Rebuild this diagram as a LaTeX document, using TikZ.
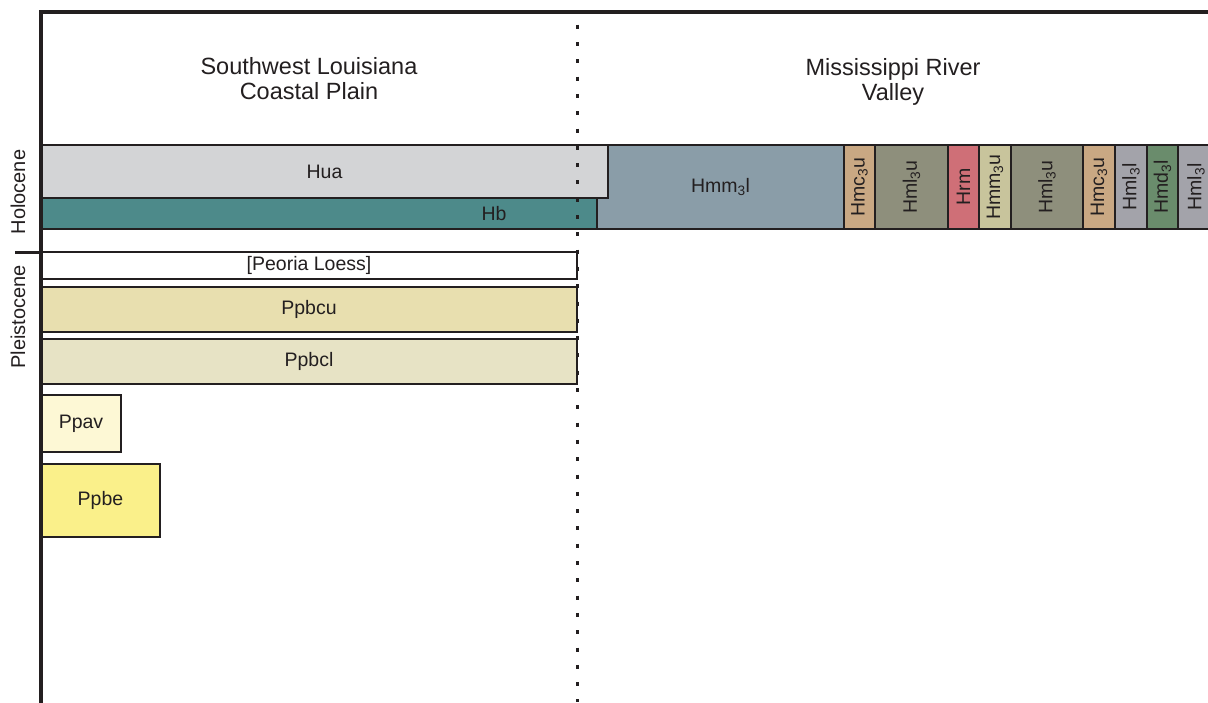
\documentclass[tikz,border=0pt]{standalone}
\usepackage{fontspec}
\setmainfont{Liberation Sans}
\definecolor{linec}{HTML}{231F20}
\definecolor{textc}{HTML}{231F20}
\definecolor{huac}{HTML}{D3D4D6}
\definecolor{hbc}{HTML}{4D8A8A}
\definecolor{hmmlc}{HTML}{8A9DA8}
\definecolor{hmcc}{HTML}{C9A883}
\definecolor{hmluc}{HTML}{8E8F7C}
\definecolor{hrmc}{HTML}{CF6F77}
\definecolor{hmmuc}{HTML}{C8C49C}
\definecolor{hmllc}{HTML}{A3A3AA}
\definecolor{hmdc}{HTML}{6A8C6C}
\definecolor{ppbcuc}{HTML}{E8DFAF}
\definecolor{ppbclc}{HTML}{E7E3C5}
\definecolor{ppavc}{HTML}{FDF8D5}
\definecolor{ppbec}{HTML}{FAF08A}
\begin{document}
\begin{tikzpicture}[x=1pt,y=-1pt,
  box/.style={rectangle, draw=linec, line width=2.6pt, inner sep=0pt, text=textc,
    font=\fontsize{19.5}{21}\selectfont},
  vbox/.style={box, minimum height=84pt},
  header/.style={text=textc, align=center, font=\fontsize{23.5}{25}\selectfont, inner sep=0pt},
  era/.style={text=textc, rotate=90, font=\fontsize{20}{22}\selectfont, inner sep=0pt},
  plain/.style={text=textc, font=\fontsize{19.5}{21}\selectfont, inner sep=0pt},
  frame/.style={line width=4.8pt, draw=linec, line join=miter},
  divider/.style={line width=3pt, draw=linec, dash pattern=on 4pt off 13.3pt, dash phase=6.6pt}
]
\useasboundingbox[fill=white] (0,0) rectangle (1208,702);

% headers
\node[header] (sw) at (309,79) {Southwest Louisiana\\Coastal Plain};
\node[header] (mrv) at (893,81.5) {Mississippi River\\Valley};

% Holocene boxes
\node[box, fill=hmmlc, minimum width=247pt, minimum height=84pt] (hmml) at (720.5,187) {Hmm\textsubscript{3}l};
\node[box, fill=hbc, minimum width=556pt, minimum height=31pt] (hb) at (319,213.5) {};
\node[plain] (hbt) at (494,214) {Hb};
\node[box, fill=huac, minimum width=567pt, minimum height=53pt] (hua) at (324.5,171.5) {Hua};

\node[vbox, fill=hmcc,  minimum width=31pt] (v1) at (859.5,187) {\rotatebox{90}{Hmc\textsubscript{3}u}};
\node[vbox, fill=hmluc, minimum width=73pt] (v2) at (911.5,187) {\rotatebox{90}{Hml\textsubscript{3}u}};
\node[vbox, fill=hrmc,  minimum width=31pt] (v3) at (963.5,187) {\rotatebox{90}{Hrm}};
\node[vbox, fill=hmmuc, minimum width=32pt] (v4) at (995,187) {\rotatebox{90}{Hmm\textsubscript{3}u}};
\node[vbox, fill=hmluc, minimum width=72pt] (v5) at (1047,187) {\rotatebox{90}{Hml\textsubscript{3}u}};
\node[vbox, fill=hmcc,  minimum width=32pt] (v6) at (1099,187) {\rotatebox{90}{Hmc\textsubscript{3}u}};
\node[vbox, fill=hmllc, minimum width=32pt] (v7) at (1131,187) {\rotatebox{90}{Hml\textsubscript{3}l}};
\node[vbox, fill=hmdc,  minimum width=31pt] (v8) at (1162.5,187) {\rotatebox{90}{Hmd\textsubscript{3}l}};
\node[vbox, fill=hmllc, minimum width=36pt] (v9) at (1196,187) {\rotatebox{90}{Hml\textsubscript{3}l}};

% Pleistocene boxes
\node[box, fill=white,  minimum width=536pt, minimum height=27pt] (peoria) at (309,265.5) {[Peoria Loess]};
\node[box, fill=ppbcuc, minimum width=536pt, minimum height=45pt] (ppbcu) at (309,309.5) {Ppbcu};
\node[box, fill=ppbclc, minimum width=536pt, minimum height=45pt] (ppbcl) at (309,361.5) {Ppbcl};
\node[box, fill=ppavc,  minimum width=80pt,  minimum height=57pt] (ppav) at (81,423.5) {Ppav};
\node[box, fill=ppbec,  minimum width=119pt, minimum height=73pt] (ppbe) at (100.5,500.5) {Ppbe};

% era labels
\node[era] (holo) at (18,192) {Holocene};
\node[era] (pleis) at (18,317) {Pleistocene};

% divider
\coordinate (dtop) at (577,14);
\coordinate (dbot) at (577,702);
\draw[divider] (dtop) -- (dbot);

% frame
\coordinate (ftr) at (1212,12);
\coordinate (ftl) at (41,12);
\coordinate (fbl) at (41,706);
\draw[frame] (ftr) -- (ftl) -- (fbl);
\coordinate (tickl) at (15,252);
\coordinate (tickr) at (41,252);
\draw[line width=3pt, draw=linec] (tickl) -- (tickr);
\end{tikzpicture}
\end{document}
